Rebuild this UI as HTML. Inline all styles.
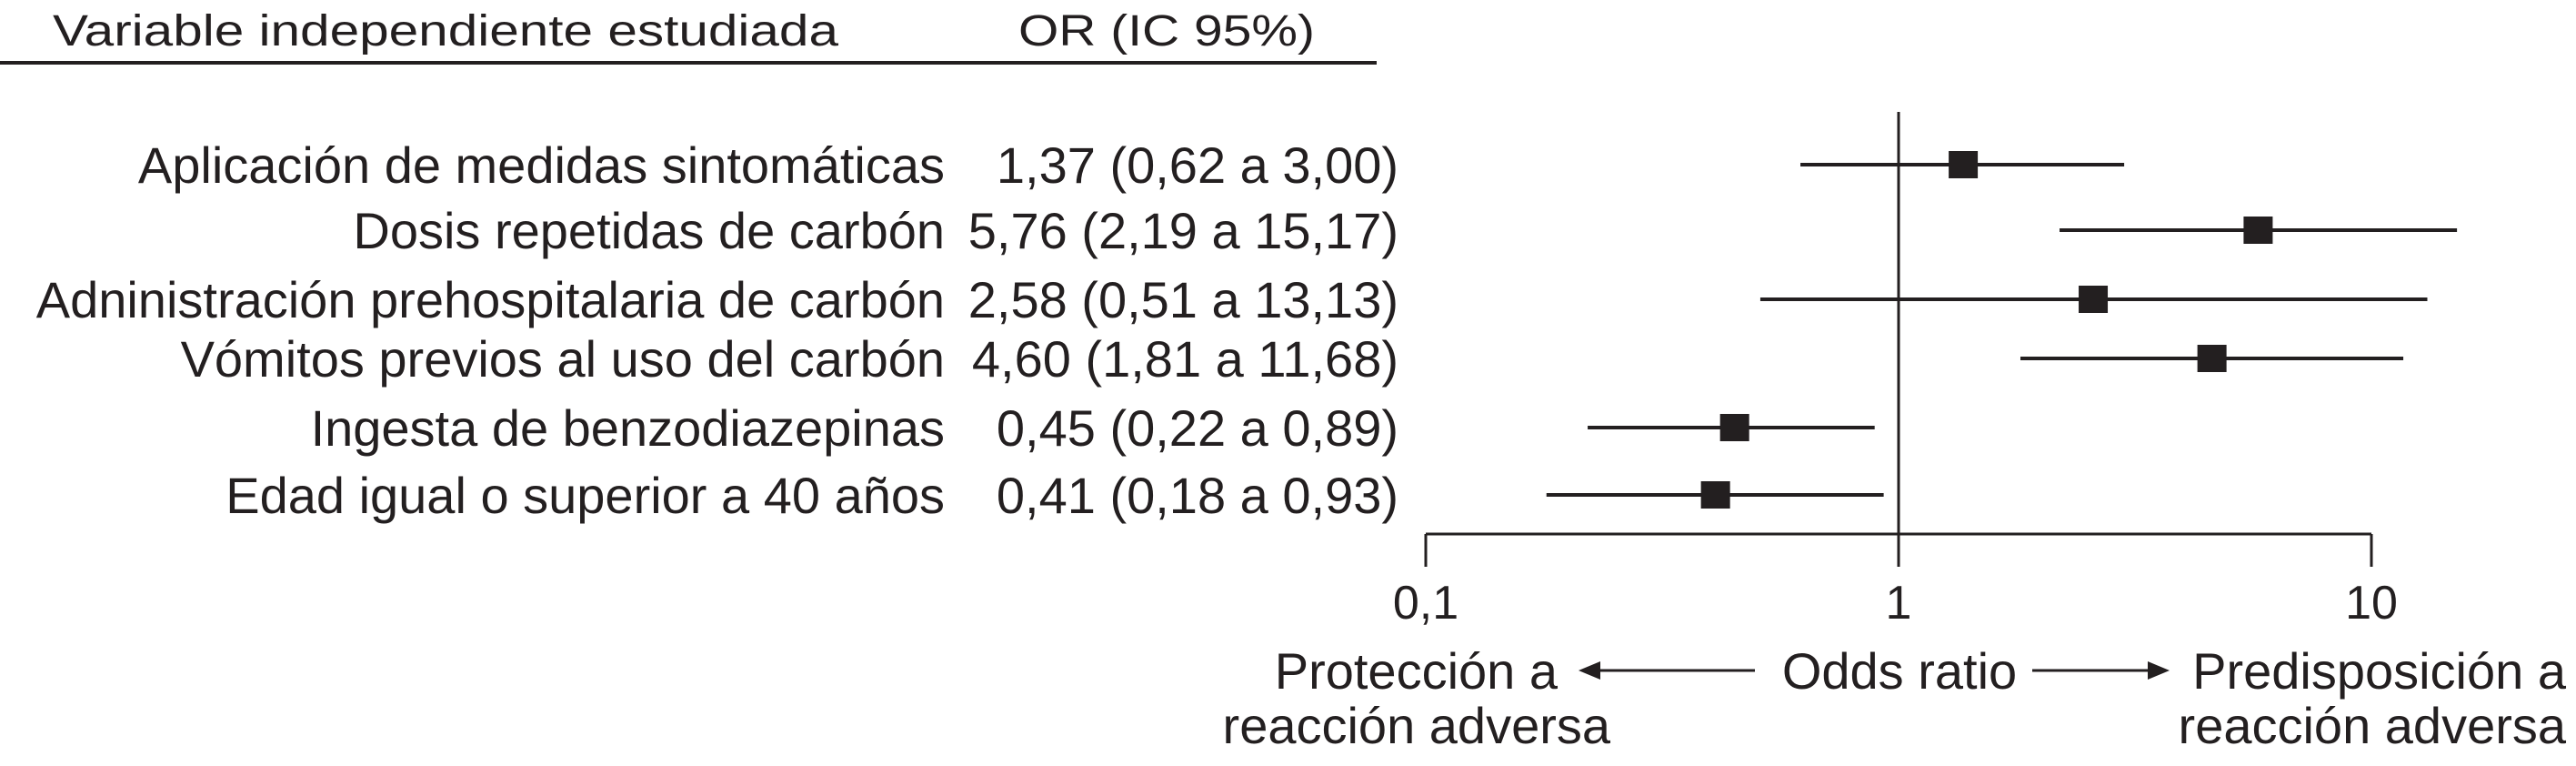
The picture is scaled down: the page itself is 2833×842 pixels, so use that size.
<!DOCTYPE html>
<html><head><meta charset="utf-8"><style>
html,body{margin:0;padding:0;background:#fff;}
svg{display:block;font-family:"Liberation Sans",Arial,sans-serif;fill:#231f20;}
</style></head><body>
<svg id="chart" width="2833" height="842" viewBox="0 0 2833 842" xmlns="http://www.w3.org/2000/svg">
<text x="58" y="50" font-size="48" textLength="864" lengthAdjust="spacingAndGlyphs">Variable independiente estudiada</text>
<text x="1120" y="50" font-size="48" textLength="326" lengthAdjust="spacingAndGlyphs">OR (IC 95%)</text>
<line x1="0" y1="69" x2="1514" y2="69" stroke="#231f20" stroke-width="4"/>
<g id="rows"></g>
<g id="marks"></g>
<g id="axis"></g>
<text x="2089" y="757" font-size="56" text-anchor="middle">Odds ratio</text>
<text x="1713" y="757" font-size="56" text-anchor="end">Protección a</text>
<text x="1771" y="817" font-size="56" text-anchor="end">reacción adversa</text>
<text x="2822" y="757" font-size="56" text-anchor="end">Predisposición a</text>
<text x="2822" y="817" font-size="56" text-anchor="end">reacción adversa</text>
<line x1="1755" y1="737" x2="1930" y2="737" stroke="#231f20" stroke-width="3"/>
<polygon points="1736,737 1760,727 1760,747"/>
<line x1="2235" y1="737" x2="2365" y2="737" stroke="#231f20" stroke-width="3"/>
<polygon points="2386,737 2362,727 2362,747"/>
</svg>
<script>
const labels = ["Aplicación de medidas sintomáticas","Dosis repetidas de carbón","Adninistración prehospitalaria de carbón","Vómitos previos al uso del carbón","Ingesta de benzodiazepinas","Edad igual o superior a 40 años"];
const orText = ["1,37 (0,62 a 3,00)","5,76 (2,19 a 15,17)","2,58 (0,51 a 13,13)","4,60 (1,81 a 11,68)","0,45 (0,22 a 0,89)","0,41 (0,18 a 0,93)"];
const orVals = [1.37,5.76,2.58,4.60,0.45,0.41];
const lowVals = [0.62,2.19,0.51,1.81,0.22,0.18];
const highVals = [3.00,15.17,13.13,11.68,0.89,0.93];
const tickVals = [0.1,1,10];
const tickLabels = ["0,1","1","10"];

const NS="http://www.w3.org/2000/svg";
const rowY=[181,253,329,394,470,544];
function x(v){return 1568+Math.log10(v/0.1)*520;}
function mk(tag,attrs,parent,text){const e=document.createElementNS(NS,tag);for(const k in attrs)e.setAttribute(k,attrs[k]);if(text!==undefined)e.textContent=text;parent.appendChild(e);return e;}
const rows=document.getElementById('rows'),marks=document.getElementById('marks'),axis=document.getElementById('axis');
labels.forEach((l,i)=>{
  const t=mk('text',{x:1039,y:rowY[i]+20,'font-size':56,'text-anchor':'end'},rows,l);
  
  
  const o=mk('text',{x:1538,y:rowY[i]+20,'font-size':56,'text-anchor':'end'},rows,orText[i]);
  
  
  const ci=mk('line',{x1:x(lowVals[i]),x2:x(highVals[i]),y1:rowY[i],y2:rowY[i],stroke:'#231f20','stroke-width':4},marks);
  
  
  const b=mk('rect',{x:x(orVals[i])-16,y:rowY[i]-15,width:32,height:30,fill:'#231f20'},marks);
  
  
});
const ref=mk('line',{x1:x(1),x2:x(1),y1:123,y2:623,stroke:'#231f20','stroke-width':3},axis);


const al=mk('line',{x1:x(0.1),x2:x(10),y1:587,y2:587,stroke:'#231f20','stroke-width':3},axis);


tickVals.forEach((v,i)=>{
  const t=mk('line',{x1:x(v),x2:x(v),y1:587,y2:623,stroke:'#231f20','stroke-width':3},axis);
  
  
  const l=mk('text',{x:x(v),y:680,'font-size':52,'text-anchor':'middle'},axis,tickLabels[i]);
  
  
});
</script>
</body></html>
